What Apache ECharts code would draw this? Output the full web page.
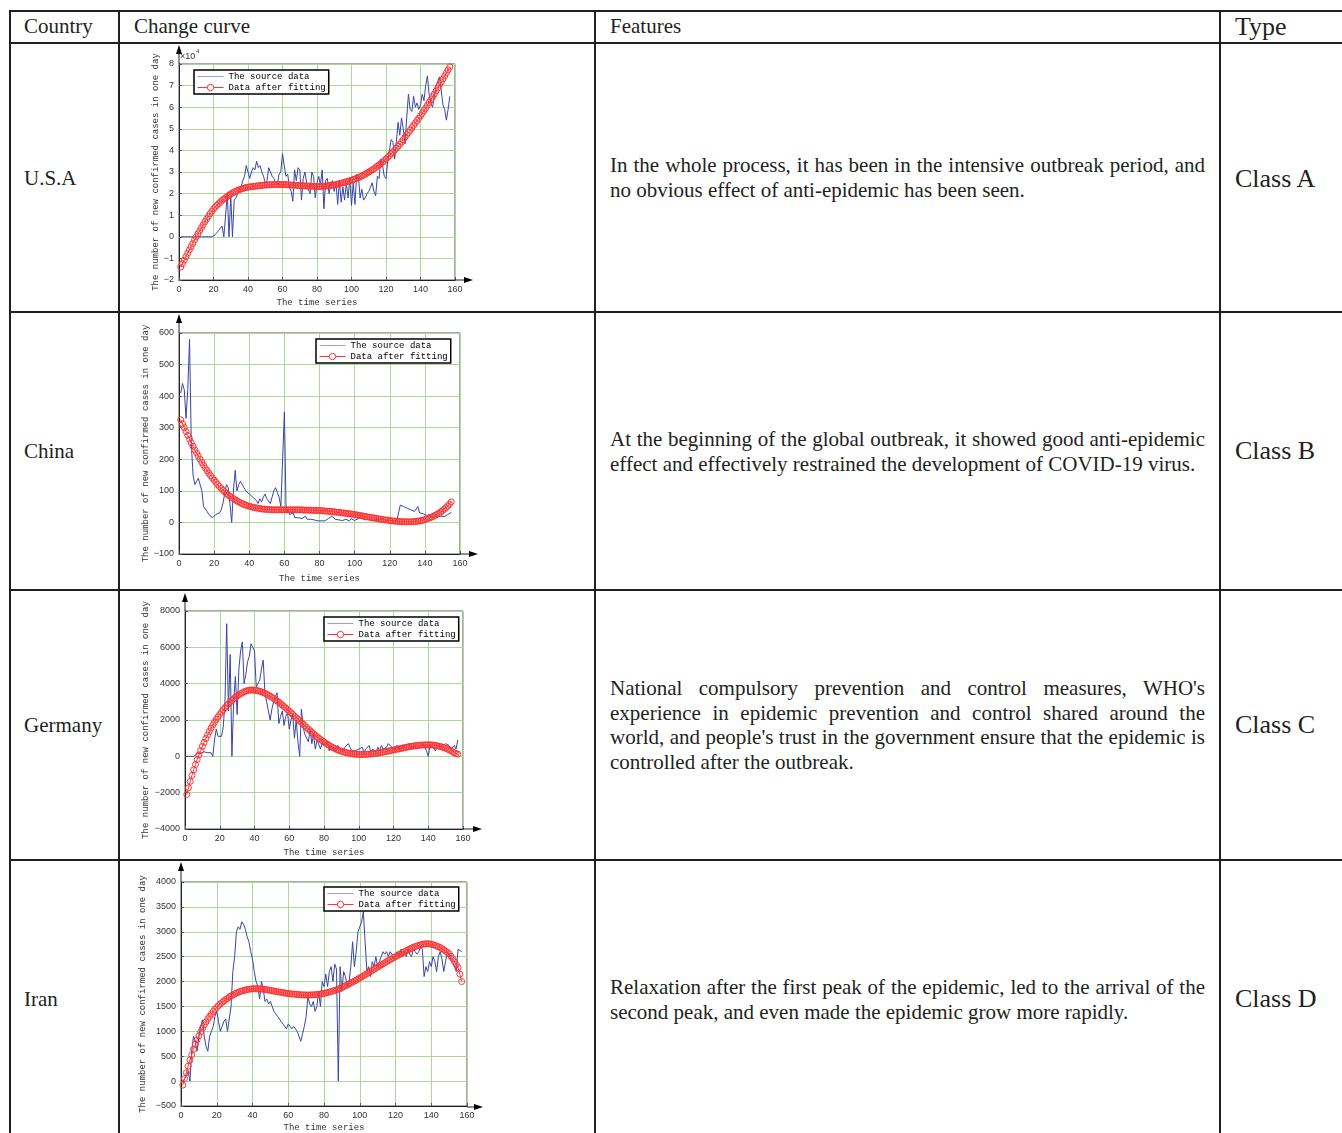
<!DOCTYPE html>
<html><head><meta charset="utf-8">
<script src="https://cdn.jsdelivr.net/npm/echarts@6/dist/echarts.min.js"></script>
<style>
html,body{margin:0;padding:0;background:#fff;}
#page{position:relative;width:1342px;height:1133px;overflow:hidden;font-family:"Liberation Serif","Times New Roman",serif;color:#231f20;}
.h{position:absolute;left:9px;width:1340px;height:2px;background:#231f20;}
.v{position:absolute;top:10px;height:1130px;width:2px;background:#231f20;}
.t{position:absolute;white-space:nowrap;font-size:21px;line-height:25px;}
.k{position:absolute;white-space:nowrap;font-size:26px;line-height:30px;}
.p{position:absolute;left:610px;width:595px;font-size:21px;line-height:24.6px;}
.p .j{text-align:justify;text-align-last:justify;}
#chart{position:absolute;left:0;top:0;width:1342px;height:1133px;}
</style></head>
<body><div id="page">
<div class="h" style="top:10px"></div>
<div class="h" style="top:42px"></div>
<div class="h" style="top:311px"></div>
<div class="h" style="top:589px"></div>
<div class="h" style="top:859px"></div>
<div class="v" style="left:9px"></div>
<div class="v" style="left:118px"></div>
<div class="v" style="left:594px"></div>
<div class="v" style="left:1219px"></div>

<div class="t" style="left:24px;top:14px">Country</div>
<div class="t" style="left:134px;top:14px">Change curve</div>
<div class="t" style="left:610px;top:14px">Features</div>
<div class="k" style="left:1235px;top:12px">Type</div>

<div class="t" style="left:24px;top:166px">U.S.A</div>
<div class="t" style="left:24px;top:439px">China</div>
<div class="t" style="left:24px;top:713px">Germany</div>
<div class="t" style="left:24px;top:987px">Iran</div>

<div class="p" style="top:153px"><div class="j">In the whole process, it has been in the intensive outbreak period, and</div><div>no obvious effect of anti-epidemic has been seen.</div></div>
<div class="p" style="top:427px"><div class="j">At the beginning of the global outbreak, it showed good anti-epidemic</div><div>effect and effectively restrained the development of COVID-19 virus.</div></div>
<div class="p" style="top:676px"><div class="j">National compulsory prevention and control measures, WHO's</div><div class="j">experience in epidemic prevention and control shared around the</div><div class="j">world, and people's trust in the government ensure that the epidemic is</div><div>controlled after the outbreak.</div></div>
<div class="p" style="top:975px"><div class="j">Relaxation after the first peak of the epidemic, led to the arrival of the</div><div>second peak, and even made the epidemic grow more rapidly.</div></div>

<div class="k" style="left:1235px;top:164px">Class A</div>
<div class="k" style="left:1235px;top:436px">Class B</div>
<div class="k" style="left:1235px;top:710px">Class C</div>
<div class="k" style="left:1235px;top:984px">Class D</div>

<div id="chart"></div>
</div>
<script>
// ---------------- DATA ----------------
const seriesNames = ['The source data', 'Data after fitting'];
const xAxisName = 'The time series';
const yAxisName = 'The number of new confirmed cases in one day';
const xRange = {min: 0, max: 160, interval: 20};

// U.S.A (values in units of 10^4)
const usaRange = {min: -2, max: 8, interval: 1};
const usaSource = [
0,0,0,0,0,0,0,0,0,0,
0,0,0,0,0,0,0,0,0,0.05,
0.1,0.2,0.3,0.4,0.5,0,0,2.0,0,1.9,
0,1.7,1.8,2.0,2.2,2.3,2.6,2.8,3.3,3.35,
2.7,3.0,3.2,3.1,3.5,3.2,3.3,3.0,2.8,2.5,
2.6,3.2,3.0,2.8,2.7,2.5,2.4,2.9,3.0,3.85,
3.3,2.8,2.9,2.3,2.1,1.65,3.1,2.6,3.2,3.1,
1.7,2.7,3.0,2.5,2.2,2.0,3.0,2.8,1.8,2.5,
2.8,2.4,3.1,1.3,2.6,2.7,2.0,2.5,2.6,2.1,
2.5,1.5,2.6,1.6,2.3,1.7,2.5,1.8,2.7,1.45,
2.5,1.5,2.9,2.8,1.8,2.2,1.7,1.8,2.0,2.1,
2.3,2.5,2.1,1.9,2.8,2.7,3.6,3.3,2.8,2.7,
3.5,4.0,4.5,4.4,3.6,4.4,5.3,4.7,5.5,5.0,
4.3,5.5,6.6,5.9,5.8,6.5,6.0,6.2,5.9,6.1,
6.6,6.3,7.0,7.45,6.6,6.2,6.0,6.5,7.0,7.2,
7.4,6.8,6.1,5.9,5.4,5.9,6.5];
const usaFit = [
-1.40,-1.24,-1.08,-0.92,-0.77,-0.61,-0.46,-0.31,-0.15,0.00,
0.14,0.28,0.42,0.56,0.70,0.82,0.94,1.06,1.18,1.29,
1.38,1.46,1.54,1.62,1.69,1.75,1.81,1.87,1.93,1.98,
2.03,2.07,2.11,2.15,2.18,2.21,2.24,2.26,2.28,2.30,
2.31,2.32,2.33,2.34,2.35,2.36,2.37,2.38,2.39,2.40,
2.40,2.41,2.41,2.41,2.42,2.42,2.42,2.42,2.42,2.42,
2.42,2.41,2.41,2.40,2.40,2.39,2.39,2.38,2.38,2.37,
2.37,2.36,2.36,2.35,2.35,2.34,2.34,2.34,2.33,2.33,
2.33,2.33,2.34,2.34,2.35,2.36,2.37,2.38,2.39,2.40,
2.42,2.44,2.46,2.48,2.50,2.52,2.55,2.57,2.60,2.62,
2.65,2.68,2.71,2.74,2.78,2.82,2.86,2.90,2.95,3.00,
3.05,3.10,3.15,3.21,3.27,3.33,3.39,3.46,3.53,3.60,
3.68,3.76,3.84,3.92,4.01,4.10,4.19,4.29,4.39,4.50,
4.61,4.72,4.83,4.94,5.05,5.16,5.27,5.38,5.49,5.60,
5.72,5.84,5.96,6.09,6.22,6.35,6.48,6.61,6.75,6.89,
7.03,7.17,7.31,7.45,7.59,7.73,7.87];

// China
const chinaRange = {min: -100, max: 600, interval: 100};
const chinaSource = [
410,440,420,330,420,580,250,150,120,125,
140,145,100,50,45,35,25,30,15,10,
25,30,30,40,60,90,120,110,60,0,
100,165,100,120,130,125,110,100,95,90,
85,80,85,70,60,75,65,80,90,75,
70,60,80,100,110,95,80,50,45,350,
30,40,25,20,30,15,12,15,10,12,
8,20,10,8,10,5,8,6,5,8,
5,7,5,10,12,15,20,15,10,5,
8,10,6,8,10,7,5,12,8,6,
10,12,8,15,10,8,5,10,8,5,
6,10,5,8,10,12,8,5,10,8,
6,5,8,5,10,55,52,50,48,45,
42,40,38,35,30,50,30,25,28,25,
22,20,25,15,20,25,18,15,20,15,
18,20,25,28,32];
const chinaFit = [
325,312,300,288,276,264,252,241,230,220,
210,200,190,181,172,164,156,148,141,134,
127,120,114,108,102,97,92,87,83,79,
75,72,68,65,62,60,57,55,53,51,
50,48,47,46,45,44,43,42,42,41,
41,41,40,40,40,40,40,40,40,40,
40,40,40,40,40,40,40,40,40,40,
39,39,39,39,39,38,38,38,38,37,
37,37,36,36,35,35,34,34,33,32,
32,31,30,30,29,28,27,27,26,25,
24,23,22,21,20,19,18,17,16,15,
14,13,12,11,10,9,8,8,7,6,
5,5,4,4,3,3,2,2,2,2,
2,2,2,3,3,4,5,6,7,9,
11,13,15,17,20,23,26,29,33,37,
42,47,52,58,65];

// Germany
const germanyRange = {min: -4000, max: 8000, interval: 2000};
const germanySource = [
0,0,0,0,0,100,150,200,150,200,
250,150,200,250,200,0,900,1500,1100,1200,
1100,1600,3000,7300,2500,5600,0,3000,4400,2300,
4800,5800,6300,4000,4500,5200,5500,6200,6100,5800,
3800,3900,4200,4800,5300,3500,3000,2500,2000,2600,
3000,3300,3500,1800,2200,2500,1700,2200,2400,1500,
2000,2300,1000,2000,800,0,2600,1600,1200,1000,
800,1500,700,1200,400,900,1000,400,800,600,
500,800,300,600,400,500,300,600,400,350,
300,500,400,700,500,300,400,300,200,400,
300,500,200,400,300,600,200,400,300,250,
500,300,600,400,350,500,700,600,500,600,
400,600,500,300,500,400,600,500,700,400,
500,600,400,300,500,600,700,500,300,0,
600,700,500,300,400,600,700,500,600,700,
800,600,400,500,600,400,900];
const germanyFit = [
-2100,-1730,-1380,-1050,-740,-450,-180,80,320,550,
770,980,1180,1370,1550,1720,1880,2030,2170,2310,
2440,2560,2680,2790,2890,2990,3080,3170,3250,3320,
3390,3450,3500,3550,3590,3620,3640,3650,3650,3640,
3630,3610,3580,3550,3510,3470,3420,3370,3310,3250,
3190,3120,3050,2980,2900,2820,2740,2660,2570,2490,
2400,2310,2220,2130,2040,1950,1860,1770,1680,1590,
1500,1410,1330,1240,1160,1080,1000,930,860,790,
720,660,600,540,490,440,390,350,310,280,
250,220,200,180,160,145,130,120,115,110,
105,105,105,110,115,120,130,140,150,165,
180,195,210,230,250,270,290,310,330,350,
370,390,410,430,450,470,490,510,530,545,
560,575,590,600,610,620,625,630,632,632,
630,625,615,600,585,565,540,510,475,440,
400,360,310,250,190,150,120];

// Iran
const iranRange = {min: -500, max: 4000, interval: 500};
const iranSource = [
-20,50,100,200,0,600,900,800,600,900,
1100,1230,900,700,600,900,1000,1100,1300,1400,
1200,1000,1100,1200,1250,1000,1000,1500,2200,2500,
3000,3100,3050,3200,3150,3050,2900,2800,2600,2450,
2200,2000,1900,1650,2000,1850,1600,1650,1550,1600,
1500,1400,1350,1300,1250,1200,1150,1100,1050,1150,
1100,1050,1100,1050,1000,900,800,950,1100,1300,
1700,1550,1500,1600,1400,1500,1800,1500,2000,1900,
2150,1900,2200,2300,2000,2350,2250,0,2300,1800,
2200,2100,1900,2000,2300,2800,2300,2600,3000,3100,
3200,3400,2800,2200,2300,2100,2400,2300,2500,2300,
2400,2500,2600,2550,2600,2500,2600,2550,2450,2500,
2600,2500,2650,2500,2600,2500,2650,2550,2500,2650,
2600,2550,2600,2700,2650,2100,2300,2200,2400,2300,
2500,2400,2200,2500,2600,2450,2200,2400,2600,2550,
2450,2400,2300,2200,2650,2650,2600];
const iranFit = [
-80,50,170,300,420,530,640,740,830,910,
990,1060,1130,1190,1250,1300,1350,1400,1440,1480,
1520,1550,1580,1610,1640,1660,1690,1710,1730,1750,
1770,1780,1800,1810,1820,1830,1840,1845,1850,1855,
1855,1855,1855,1850,1850,1845,1840,1835,1830,1820,
1815,1810,1800,1795,1790,1785,1780,1770,1765,1760,
1755,1750,1748,1745,1740,1738,1735,1733,1731,1730,
1730,1730,1732,1733,1735,1740,1745,1750,1755,1760,
1770,1780,1790,1800,1810,1822,1835,1850,1865,1880,
1897,1915,1933,1951,1970,1990,2010,2030,2050,2070,
2092,2114,2136,2158,2180,2202,2224,2246,2268,2290,
2312,2334,2356,2378,2400,2420,2440,2460,2480,2500,
2520,2540,2560,2580,2600,2618,2636,2654,2672,2690,
2702,2714,2726,2738,2750,2755,2758,2760,2756,2750,
2740,2728,2714,2700,2685,2660,2635,2610,2585,2560,
2510,2460,2400,2340,2280,2150,2000];

// ---------------- LAYOUT ----------------
const panels = [
  {src: usaSource, fit: usaFit, range: usaRange,
   grid: {left: 179, top: 64, width: 276, height: 216}, yGap: 19, xGap: 18, legend: {left: 194, top: 70}, arrowTop: 45, arrowRight: 473, exp: true},
  {src: chinaSource, fit: chinaFit, range: chinaRange,
   grid: {left: 179, top: 333, width: 281, height: 221}, yGap: 28, xGap: 20, legend: {left: 316, top: 339}, arrowTop: 314, arrowRight: 478},
  {src: germanySource, fit: germanyFit, range: germanyRange,
   grid: {left: 185, top: 611, width: 278, height: 218}, yGap: 35, xGap: 19, legend: {left: 324, top: 617}, arrowTop: 593, arrowRight: 482},
  {src: iranSource, fit: iranFit, range: iranRange,
   grid: {left: 181, top: 882, width: 286, height: 225}, yGap: 34, xGap: 17, legend: {left: 324, top: 887}, arrowTop: 862, arrowRight: 483}
];

const BLUE = '#3b44a8', RED = '#ff3434', GRIDC = '#a9d89b', AX = '#222';
const minus = v => String(v).replace('-', '\u2212');
const mono = '"Liberation Mono","DejaVu Sans Mono",monospace';
const sans = '"Liberation Sans","Arial",sans-serif';
// thin horizontal line icon (corner specks keep the bounding box)
const lineIcon = 'path://M0,8.8h100v2.4h-100z M0,0h0.01v0.01h-0.01z M99.99,19.99h0.01v0.01h-0.01z';

const option = {animation: false, backgroundColor: 'transparent', grid: [], xAxis: [], yAxis: [], series: [], legend: [], graphic: []};
panels.forEach((p, i) => {
  option.grid.push(Object.assign({show: true, borderColor: '#555', borderWidth: 1, backgroundColor: '#fff'}, p.grid));
  option.xAxis.push({type: 'value', gridIndex: i, min: xRange.min, max: xRange.max, interval: xRange.interval,
    name: xAxisName, nameLocation: 'middle', nameGap: p.xGap,
    nameTextStyle: {fontFamily: mono, fontSize: 9, color: '#333'},
    axisLine: {onZero: false, lineStyle: {color: AX, width: 1}},
    axisTick: {show: true, inside: true, length: 3, lineStyle: {color: '#555'}},
    axisLabel: {fontFamily: sans, fontSize: 9, color: '#333', margin: 5, formatter: minus},
    splitLine: {show: true, lineStyle: {color: GRIDC, width: 1}}});
  option.yAxis.push({type: 'value', gridIndex: i, min: p.range.min, max: p.range.max, interval: p.range.interval,
    name: yAxisName, nameLocation: 'middle', nameGap: p.yGap,
    nameTextStyle: {fontFamily: mono, fontSize: 9, color: '#333'},
    axisLine: {onZero: false, lineStyle: {color: AX, width: 1}},
    axisTick: {show: true, inside: true, length: 3, lineStyle: {color: '#555'}},
    axisLabel: {fontFamily: sans, fontSize: 9, color: '#333', margin: 5, formatter: minus},
    splitLine: {show: true, lineStyle: {color: GRIDC, width: 1}}});
  option.series.push({name: seriesNames[0], type: 'line', xAxisIndex: i, yAxisIndex: i,
    data: p.src.map((v, k) => [k + 1, v]), showSymbol: false, symbol: 'none',
    lineStyle: {color: BLUE, width: 1}, itemStyle: {color: BLUE}, z: 2});
  option.series.push({name: seriesNames[1], type: 'line', xAxisIndex: i, yAxisIndex: i,
    data: p.fit.map((v, k) => [k + 1, v]), symbol: 'circle', symbolSize: 6, showSymbol: true,
    lineStyle: {color: RED, width: 1}, itemStyle: {color: 'rgba(255,255,255,0)', borderColor: RED, borderWidth: 1}, z: 3});
  option.legend.push({orient: 'vertical', left: p.legend.left, top: p.legend.top,
    data: [{name: seriesNames[0], icon: lineIcon, itemStyle: {color: BLUE, borderWidth: 0}},
           {name: seriesNames[1], lineStyle: {width: 1, color: RED}, itemStyle: {color: '#fff', borderColor: RED, borderWidth: 1}}],
    backgroundColor: '#fff', borderColor: '#000', borderWidth: 1.5, padding: [2, 3, 2, 3],
    itemWidth: 26, itemHeight: 8, itemGap: 2, selectedMode: false,
    textStyle: {fontFamily: mono, fontSize: 9, color: '#000'}});
  const L = p.grid.left, T = p.grid.top, R = p.grid.left + p.grid.width, B = p.grid.top + p.grid.height;
  option.graphic.push(
    {type: 'line', shape: {x1: L, y1: T, x2: L, y2: p.arrowTop + 6}, style: {stroke: AX, lineWidth: 1}, z: 10},
    {type: 'polygon', shape: {points: [[L - 3, p.arrowTop + 9], [L, p.arrowTop], [L + 3, p.arrowTop + 9]]}, style: {fill: '#000'}, z: 10},
    {type: 'line', shape: {x1: R, y1: B, x2: p.arrowRight - 6, y2: B}, style: {stroke: AX, lineWidth: 1}, z: 10},
    {type: 'polygon', shape: {points: [[p.arrowRight - 9, B - 3], [p.arrowRight, B], [p.arrowRight - 9, B + 3]]}, style: {fill: '#000'}, z: 10}
  );
  if (p.exp) {
    option.graphic.push(
      {type: 'text', left: L + 1, top: T - 12, style: {text: '\u00d710', font: '9px ' + sans, fill: '#333'}, z: 10},
      {type: 'text', left: L + 17, top: T - 16, style: {text: '4', font: '6px ' + sans, fill: '#333'}, z: 10}
    );
  }
});

const chart = echarts.init(document.getElementById('chart'), null, {renderer: 'canvas'});
chart.setOption(option);
</script>
</body></html>
